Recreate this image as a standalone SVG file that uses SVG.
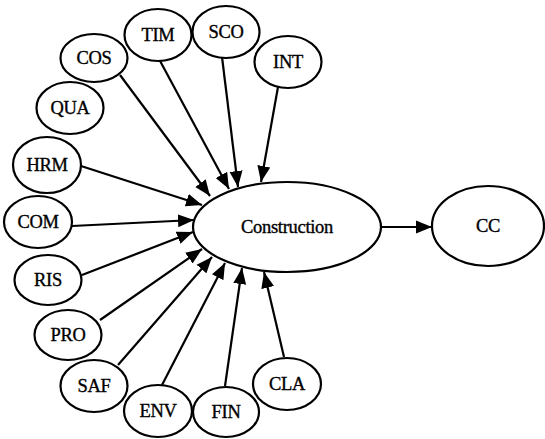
<svg xmlns="http://www.w3.org/2000/svg" width="545" height="439" viewBox="0 0 545 439">
<style>
.n ellipse{fill:#fff;stroke:#000;stroke-width:2.2}
.n text{font-family:"Liberation Serif","Times New Roman",serif;font-size:18.5px;text-anchor:middle;fill:#000;stroke:#000;stroke-width:0.35;letter-spacing:-0.3px}
.e line{stroke:#000;stroke-width:2.2;marker-end:url(#ah)}
</style>
<defs>
<marker id="ah" markerUnits="userSpaceOnUse" markerWidth="18" markerHeight="14" refX="16" refY="6.5" orient="auto" viewBox="0 0 18 13">
<path d="M0,0 L16,6.5 L0,13 z" fill="#000"/>
</marker>
</defs>
<g class="e" id="connectors">
<line x1="278" y1="87" x2="261" y2="182"/>
<line x1="222" y1="57" x2="238" y2="187"/>
<line x1="159" y1="59" x2="229" y2="189"/>
<line x1="120" y1="75" x2="210" y2="196"/>
<line x1="81" y1="166" x2="202" y2="205"/>
<line x1="72" y1="226" x2="194" y2="220"/>
<line x1="82" y1="275" x2="193" y2="232"/>
<line x1="100" y1="320" x2="202" y2="249"/>
<line x1="118" y1="365" x2="212" y2="257"/>
<line x1="162" y1="385" x2="225" y2="263"/>
<line x1="225" y1="386" x2="242" y2="268"/>
<line x1="284" y1="357" x2="264" y2="272"/>
<line x1="381" y1="227" x2="432" y2="227"/>
</g>
<g class="n" id="construction"><ellipse cx="287" cy="227" rx="94" ry="45"/><text x="287" y="233">Construction</text></g>
<g class="n" id="cc"><ellipse cx="488" cy="226" rx="56" ry="40"/><text x="488" y="232">CC</text></g>
<g class="n" id="tim"><ellipse cx="158" cy="35" rx="33.5" ry="26"/><text x="158" y="41">TIM</text></g>
<g class="n" id="sco"><ellipse cx="226" cy="32" rx="33.5" ry="26"/><text x="226" y="38">SCO</text></g>
<g class="n" id="int"><ellipse cx="288" cy="62" rx="33.5" ry="26"/><text x="288" y="68">INT</text></g>
<g class="n" id="cos"><ellipse cx="94" cy="58" rx="33.5" ry="24"/><text x="94" y="64">COS</text></g>
<g class="n" id="qua"><ellipse cx="70" cy="108" rx="33.5" ry="26"/><text x="70" y="114">QUA</text></g>
<g class="n" id="hrm"><ellipse cx="47" cy="165" rx="34" ry="28"/><text x="47" y="171">HRM</text></g>
<g class="n" id="com"><ellipse cx="38" cy="222" rx="34" ry="26"/><text x="38" y="228">COM</text></g>
<g class="n" id="ris"><ellipse cx="48" cy="280" rx="33.5" ry="25"/><text x="48" y="286">RIS</text></g>
<g class="n" id="pro"><ellipse cx="68" cy="335" rx="33.5" ry="25"/><text x="68" y="341">PRO</text></g>
<g class="n" id="saf"><ellipse cx="94" cy="386" rx="33.5" ry="26"/><text x="94" y="392">SAF</text></g>
<g class="n" id="env"><ellipse cx="158" cy="411" rx="34" ry="26"/><text x="158" y="417">ENV</text></g>
<g class="n" id="fin"><ellipse cx="226" cy="412" rx="33" ry="25"/><text x="226" y="418">FIN</text></g>
<g class="n" id="cla"><ellipse cx="287" cy="384" rx="34" ry="26"/><text x="287" y="390">CLA</text></g>
</svg>
